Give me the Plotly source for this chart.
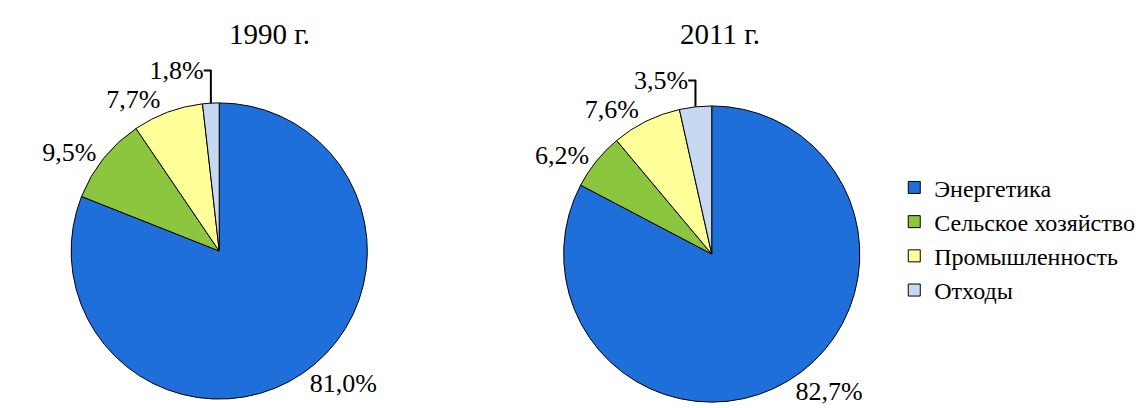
import plotly.graph_objects as go

categories = ["Энергетика", "Сельское хозяйство", "Промышленность", "Отходы"]
values_1990 = [81.0, 9.5, 7.7, 1.8]
values_2011 = [82.7, 6.2, 7.6, 3.5]
labels_1990 = ["81,0%", "9,5%", "7,7%", "1,8%"]
labels_2011 = ["82,7%", "6,2%", "7,6%", "3,5%"]
colors = ["#1F6FDB", "#8CC63F", "#FFFF99", "#C6D9F1"]

fig = go.Figure()
for vals, labs, dom, show in [
    (values_1990, labels_1990, dict(x=[0.055, 0.313], y=[0.03, 0.77]), True),
    (values_2011, labels_2011, dict(x=[0.484, 0.742], y=[0.02, 0.765]), False),
]:
    fig.add_trace(go.Pie(
        labels=categories, values=vals, text=labs, textinfo="text",
        textposition="outside", sort=False, direction="clockwise", rotation=0,
        marker=dict(colors=colors, line=dict(color="black", width=1)),
        domain=dom, showlegend=show, hoverinfo="label+percent",
        textfont=dict(size=26, color="black"),
    ))

fig.update_layout(
    width=1148, height=408, margin=dict(l=0, r=0, t=0, b=0),
    paper_bgcolor="white", font=dict(family="Liberation Serif", size=26, color="black"),
    legend=dict(x=0.772, y=0.43, xanchor="left", yanchor="middle",
                font=dict(size=24), itemwidth=30, tracegroupgap=0),
    annotations=[
        dict(text="1990 г.", x=0.191, y=0.935, xref="paper", yref="paper", showarrow=False,
             yanchor="middle", font=dict(size=29)),
        dict(text="2011 г.", x=0.62, y=0.935, xref="paper", yref="paper", showarrow=False,
             yanchor="middle", font=dict(size=29)),
    ],
)
fig.write_html("out.html")
